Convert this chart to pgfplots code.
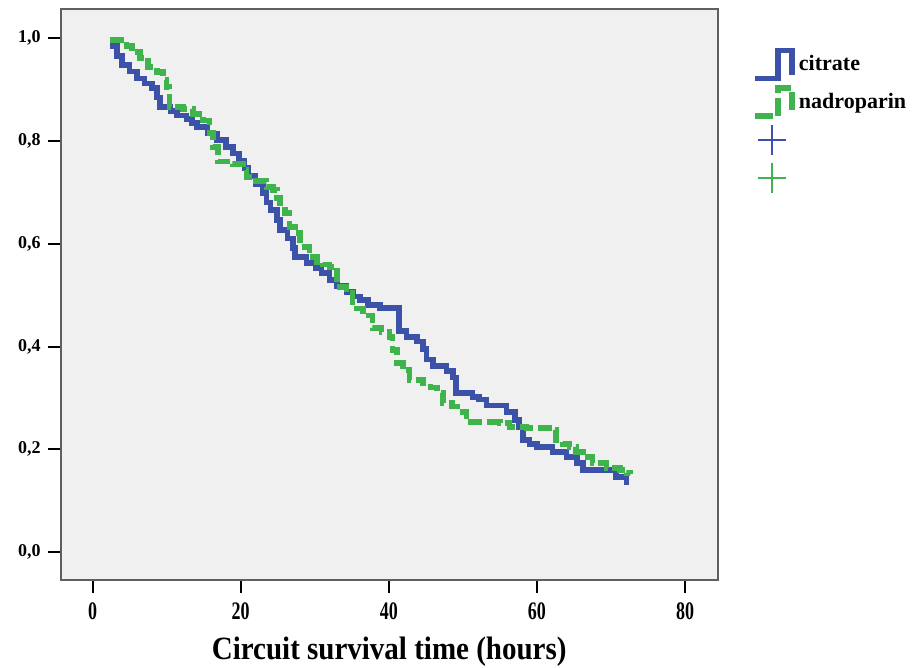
\documentclass[border=0pt]{standalone}
\usepackage{fontspec}
\setmainfont{Liberation Serif}
\usepackage{pgfplots}
\pgfplotsset{compat=1.18}
\definecolor{kmblue}{RGB}{60,82,168}
\definecolor{kmgreen}{RGB}{64,180,76}
\definecolor{panel}{RGB}{240,240,240}
\definecolor{framegray}{RGB}{95,95,95}

\begin{document}
\begin{tikzpicture}
\useasboundingbox (-30.35pt,-44pt) rectangle (429.65pt,290pt);
\begin{axis}[
    at={(0,0)}, anchor=south west,
    scale only axis,
    width=328.5pt, height=285.5pt,
    xmin=-4.3, xmax=84.4,
    ymin=-0.0545, ymax=1.057,
    xtick={0,20,40,60,80},
    ytick={0,0.2,0.4,0.6,0.8,1},
    tick align=outside,
    tick pos=left,
    major tick length=6.5pt,
    tick style={black, line width=1pt},
    axis line style={framegray, line width=1pt},
    axis background/.style={fill=panel},
    ticklabel style={font=\bfseries\fontsize{9}{9}\selectfont},
    /pgf/number format/assume math mode=true,
    xticklabel style={yscale=1.4},
    yticklabel style={/pgf/number format/.cd, fixed, fixed zerofill, precision=1, use comma},
    xlabel={Circuit survival time (hours)},
    xlabel style={at={(axis description cs:0.5,-0.14)}, anchor=base,
        font=\bfseries\fontsize{14.5}{15}\selectfont, yscale=1.12},
    legend style={at={(1.043,0.94)}, anchor=north west, draw=none, fill=none,
        font=\bfseries\fontsize{11}{12}\selectfont, row sep=2pt},
    legend cell align=left,
]
% citrate
\addplot[const plot, kmblue, line width=2.8pt,
    legend image code/.code={\draw[kmblue, line width=2.8pt]
        (0pt,-7pt) -- (11.5pt,-7pt) -- (11.5pt,7pt) -- (18.5pt,7pt) -- (18.5pt,-5.5pt);}]
coordinates {
(2.3,0.985) (3.3,0.965) (4.0,0.948) (5.0,0.935) (6.0,0.922) (7.0,0.912)
(8.0,0.903) (8.7,0.885) (9.1,0.866) (10.5,0.858) (11.4,0.850) (12.7,0.843)
(13.4,0.835) (14.1,0.827) (15.5,0.815) (16.8,0.802) (18.0,0.788) (19.0,0.776)
(19.8,0.762) (20.5,0.748) (21.0,0.732) (22.0,0.716) (23.0,0.699) (23.5,0.680)
(24.0,0.666) (24.9,0.646) (25.3,0.627) (26.3,0.610) (27.1,0.592) (27.3,0.574)
(28.9,0.563) (30.2,0.553) (30.9,0.543) (32.0,0.529) (33.0,0.518) (34.3,0.506)
(35.2,0.497) (36.1,0.490) (37.2,0.481) (38.8,0.475) (41.4,0.430) (42.4,0.419)
(43.8,0.410) (44.6,0.395) (45.1,0.375) (46.0,0.362) (47.8,0.352) (48.7,0.340)
(49.1,0.310) (51.3,0.302) (52.2,0.297) (53.2,0.285) (55.9,0.273) (57.0,0.257)
(57.6,0.243) (58.1,0.218) (59.0,0.210) (60.0,0.204) (62.1,0.195) (64.0,0.185)
(65.4,0.173) (66.2,0.160) (70.7,0.146) (72.1,0.136) (72.4,0.136)
};
\addlegendentry{citrate}
% nadroparin
\addplot[const plot, kmgreen, line width=2.8pt, dash pattern=on 7pt off 2.5pt,
    legend image code/.code={\draw[kmgreen, line width=2.8pt, dash pattern=on 9pt off 2.5pt]
        (0pt,-7pt) -- (11.5pt,-7pt) -- (11.5pt,7pt) -- (18.5pt,7pt) -- (18.5pt,-5.5pt);}]
coordinates {
(2.3,0.997) (4.6,0.985) (5.3,0.973) (6.4,0.962) (7.5,0.944) (8.7,0.934)
(9.5,0.919) (10.0,0.905) (10.4,0.866) (12.2,0.862) (13.6,0.853) (14.9,0.840)
(15.8,0.816) (16.3,0.788) (16.9,0.760) (18.9,0.755) (20.3,0.744) (20.8,0.730)
(21.6,0.722) (23.5,0.710) (24.4,0.705) (24.9,0.689) (25.3,0.666) (26.0,0.660)
(26.6,0.633) (27.3,0.621) (28.0,0.594) (29.3,0.574) (30.3,0.565) (31.1,0.560)
(32.0,0.555) (33.0,0.516) (34.3,0.504) (35.1,0.474) (36.5,0.460) (37.8,0.436)
(39.0,0.428) (40.1,0.419) (40.5,0.393) (41.1,0.368) (41.9,0.354) (42.8,0.335)
(44.6,0.329) (45.6,0.320) (46.5,0.310) (47.3,0.290) (48.5,0.283) (50.0,0.272)
(50.5,0.253) (55.0,0.251) (56.3,0.243) (58.6,0.241) (62.1,0.237) (62.6,0.218)
(63.5,0.210) (64.4,0.204) (65.3,0.195) (66.2,0.185) (67.5,0.173) (69.4,0.163)
(71.2,0.160) (72.1,0.154) (72.6,0.152)
};
\addlegendentry{nadroparin}
% censored markers (legend only)
\addlegendimage{legend image code/.code={%
    \path[draw=none, fill=none] (0pt,-8.5pt) rectangle (18.5pt,8.5pt);
    \draw[kmblue, line width=1pt] (8.5pt,-7.5pt) -- (8.5pt,7.5pt) (1.5pt,0pt) -- (15.5pt,0pt);}}
\addlegendentry{\phantom{c}}
\addlegendimage{legend image code/.code={%
    \path[draw=none, fill=none] (0pt,-8.5pt) rectangle (18.5pt,8.5pt);
    \draw[kmgreen, line width=1pt] (8.5pt,-7.5pt) -- (8.5pt,7.5pt) (1.5pt,0pt) -- (15.5pt,0pt);}}
\addlegendentry{\phantom{c}}
\end{axis}
\end{tikzpicture}
\end{document}
